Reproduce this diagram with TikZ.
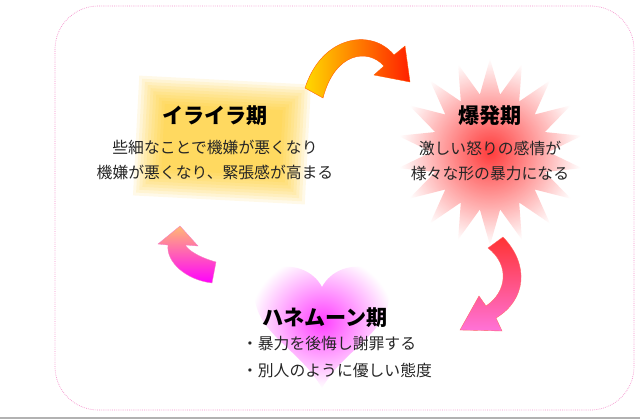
\documentclass[tikz,border=0pt]{standalone}
\usepackage{fontspec}
\newfontfamily\jp{Noto Sans CJK JP}
\usetikzlibrary{shapes.geometric,calc}
\tikzset{title/.style={font=\jp\bfseries\fontsize{18}{20}\selectfont, text=black}}
\tikzset{body/.style={font=\jp\fontsize{13.5}{22}\selectfont, text=black!85, align=center}}
\begin{document}
\begin{tikzpicture}[x=0.03cm, y=-0.03cm]
\useasboundingbox (0,0) rectangle (640,420);
\fill[white] (0,0) rectangle (640,420);
\draw[magenta!45, densely dotted, line width=0.6pt, rounded corners=1.3cm] (55,6) rectangle (634,410);
\draw[gray!60, line width=1pt] (0,418) -- (640,418);

% yellow patch
\begin{scope}[rotate around={-3:(222,140)}]
\foreach \i in {0,...,9}
  \fill[orange!45!yellow, opacity=0.09] ($(222,140)+(-86+3*\i,-60+3*\i)$) rectangle ($(222,140)+(86-3*\i,60-3*\i)$);
\end{scope}

% star
\begin{scope}[shift={(490,152)}, yscale=0.82]
\node[star, star points=18, star point ratio=1.6, minimum size=5.6cm, inner color=red!85, outer color=white, opacity=0.9] (burst) at (0,0) {};
\end{scope}

% heart
\shade[inner color=magenta!75, outer color=white]
  (322,287) .. controls (305,255) and (250,262) .. (255,300) .. controls (260,335) and (300,350) .. (322,388)
  .. controls (344,350) and (384,335) .. (389,300) .. controls (394,262) and (339,255) .. (322,287);

% arrows
\shade[left color=yellow!70!orange, right color=red!75!orange, draw=orange!70!red, line width=0.3pt]
  (305,88) .. controls (322,35) and (372,28) .. (394,55) -- (405,46) -- (410,82) -- (374,75) -- (384,66)
  .. controls (368,48) and (335,52) .. (323,98) -- cycle;
\shade[top color=red!80, bottom color=magenta!40!pink, draw=red!60, line width=0.3pt]
  (503,237) .. controls (530,265) and (526,300) .. (496,318) -- (502,331) -- (460,330) -- (479,296) -- (486,306)
  .. controls (507,292) and (510,265) .. (488,248) -- cycle;
\shade[top color=orange!55, bottom color=magenta, draw=magenta!50, line width=0.3pt]
  (216,262) .. controls (194,256) and (184,246) .. (186,245) -- (198,246) -- (180,226) -- (158,244) -- (168,245)
  .. controls (166,262) and (186,280) .. (212,283) -- cycle;

% texts
\node[title] (t1) at (215,116) {イライラ期};
\node[body] (b1) at (215,160) {些細なことで機嫌が悪くなり\\機嫌が悪くなり、緊張感が高まる};
\node[title] (t2) at (490,116) {爆発期};
\node[body] (b2) at (490,161) {激しい怒りの感情が\\様々な形の暴力になる};
\node[title] (t3) at (325,318) {ハネムーン期};
\node[body, align=left, font=\jp\fontsize{13.5}{23}\selectfont] (b3) at (337,357) {・暴力を後悔し謝罪する\\・別人のように優しい態度};
\end{tikzpicture}
\end{document}
